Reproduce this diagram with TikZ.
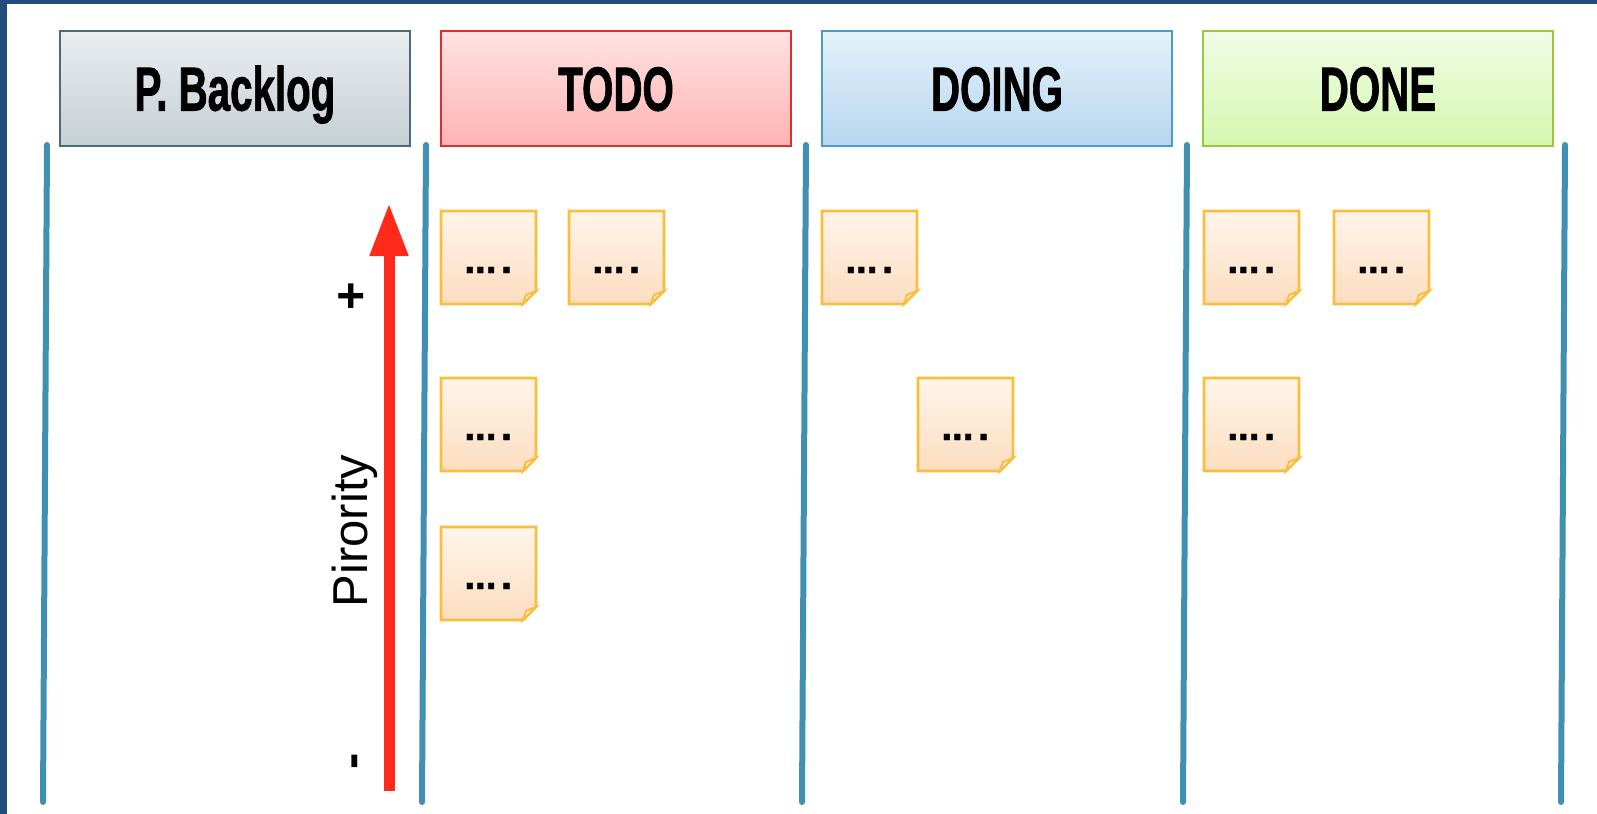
\documentclass[tikz,border=0pt]{standalone}
\usepackage{fontspec}
\usepackage{graphicx}
\setmainfont{Liberation Sans}
\newfontfamily\hdrfont{Liberation Sans}[BoldFeatures={FakeBold=1.6}]
\newfontfamily\dotfont{DejaVu Sans}[BoldFeatures={FakeBold=1.2}]
\usetikzlibrary{arrows.meta}

\definecolor{navy}{HTML}{224E79}
\definecolor{laneLine}{HTML}{3F90B1}
\definecolor{bkTop}{HTML}{EAEEF1}
\definecolor{bkBot}{HTML}{C6CFD5}
\definecolor{bkLine}{HTML}{4A6B78}
\definecolor{tdTop}{HTML}{FFE2E2}
\definecolor{tdBot}{HTML}{FFB2B2}
\definecolor{tdLine}{HTML}{DA3030}
\definecolor{dgTop}{HTML}{E4F2FB}
\definecolor{dgBot}{HTML}{B7D6EF}
\definecolor{dgLine}{HTML}{4B9DC2}
\definecolor{dnTop}{HTML}{F2FCE6}
\definecolor{dnBot}{HTML}{D4F8AE}
\definecolor{dnLine}{HTML}{9DC53E}
\definecolor{ntTop}{HTML}{FFF5EA}
\definecolor{ntBot}{HTML}{FDDDC0}
\definecolor{ntLine}{HTML}{FBBE3C}
\definecolor{ntFold}{HTML}{FFF1DF}
\definecolor{prioRed}{HTML}{FF2A1A}

\newcommand\hdrtext[1]{\scalebox{0.65}[1]{#1}}
\newcommand\stickynote[3]{%
  \path[notebody] (#1,#2) -- (#1+95,#2) -- (#1+95,#2+80) -- (#1+82,#2+93) -- (#1,#2+93) -- cycle;
  \path[notefold] (#1+82,#2+93) -- (#1+85,#2+84) -- (#1+95,#2+80) -- cycle;
  \node[notetext] (#3) at (#1+47.5,#2+62) {…\kern2pt.};
}

\begin{document}
\begin{tikzpicture}[x=0.5pt,y=-0.5pt,
  header/.style={rectangle, line width=1.3pt, minimum width=175pt, minimum height=57.5pt,
    inner sep=0pt, text height=22pt, text depth=0pt,
    font=\hdrfont\fontsize{31}{31}\selectfont\bfseries},
  lane/.style={draw=laneLine, line width=3pt, line cap=round},
  notebody/.style={draw=ntLine, line width=1.4pt, line join=miter, top color=ntTop, bottom color=ntBot},
  notefold/.style={draw=ntLine, line width=1pt, fill=ntFold},
  notetext/.style={anchor=base, inner sep=0pt, font=\dotfont\bfseries\fontsize{16}{16}\selectfont},
  rottext/.style={rotate=90, anchor=base, inner sep=0pt, font=\fontsize{24.5}{24.5}\selectfont},
  prio/.style={draw=prioRed, line width=5.5pt, -{Triangle[length=26.5pt, width=18pt]}, prioRed}
]
\useasboundingbox (0,0) rectangle (1597,814);
\fill[navy] (0,0) rectangle (1597,814);
\fill[white] (7,4) rectangle (1597,814);

% headers
\node[header, top color=bkTop, bottom color=bkBot, draw=bkLine] (backlog) at (235,88.5) {\hdrtext{P. Backlog}};
\node[header, top color=tdTop, bottom color=tdBot, draw=tdLine] (todo) at (616,88.5) {\hdrtext{TODO}};
\node[header, top color=dgTop, bottom color=dgBot, draw=dgLine] (doing) at (997,88.5) {\hdrtext{DOING}};
\node[header, top color=dnTop, bottom color=dnBot, draw=dnLine] (done) at (1378,88.5) {\hdrtext{DONE}};

% lane separators
\draw[lane] (47,145) -- (43,802);
\draw[lane] (426,145) -- (422,802);
\draw[lane] (806,145) -- (802,802);
\draw[lane] (1187,145) -- (1183,802);
\draw[lane] (1565,145) -- (1561,802);

% priority arrow
\coordinate (pbot) at (389,791);
\coordinate (ptop) at (389,203);
\draw[prio] (pbot) -- (ptop);
\node[rottext, font=\bfseries\fontsize{24.5}{24.5}\selectfont] (plus) at (367,296) {+};
\node[rottext] (prioLabel) at (367,531) {Pirority};
\node[rottext, font=\bfseries\fontsize{24.5}{24.5}\selectfont] (minus) at (367,761) {-};

% sticky notes
\stickynote{441}{211}{t1}
\stickynote{569}{211}{t2}
\stickynote{441}{378}{t3}
\stickynote{441}{527}{t4}
\stickynote{822}{211}{g1}
\stickynote{918}{378}{g2}
\stickynote{1204}{211}{d1}
\stickynote{1334}{211}{d2}
\stickynote{1204}{378}{d3}
\end{tikzpicture}
\end{document}
